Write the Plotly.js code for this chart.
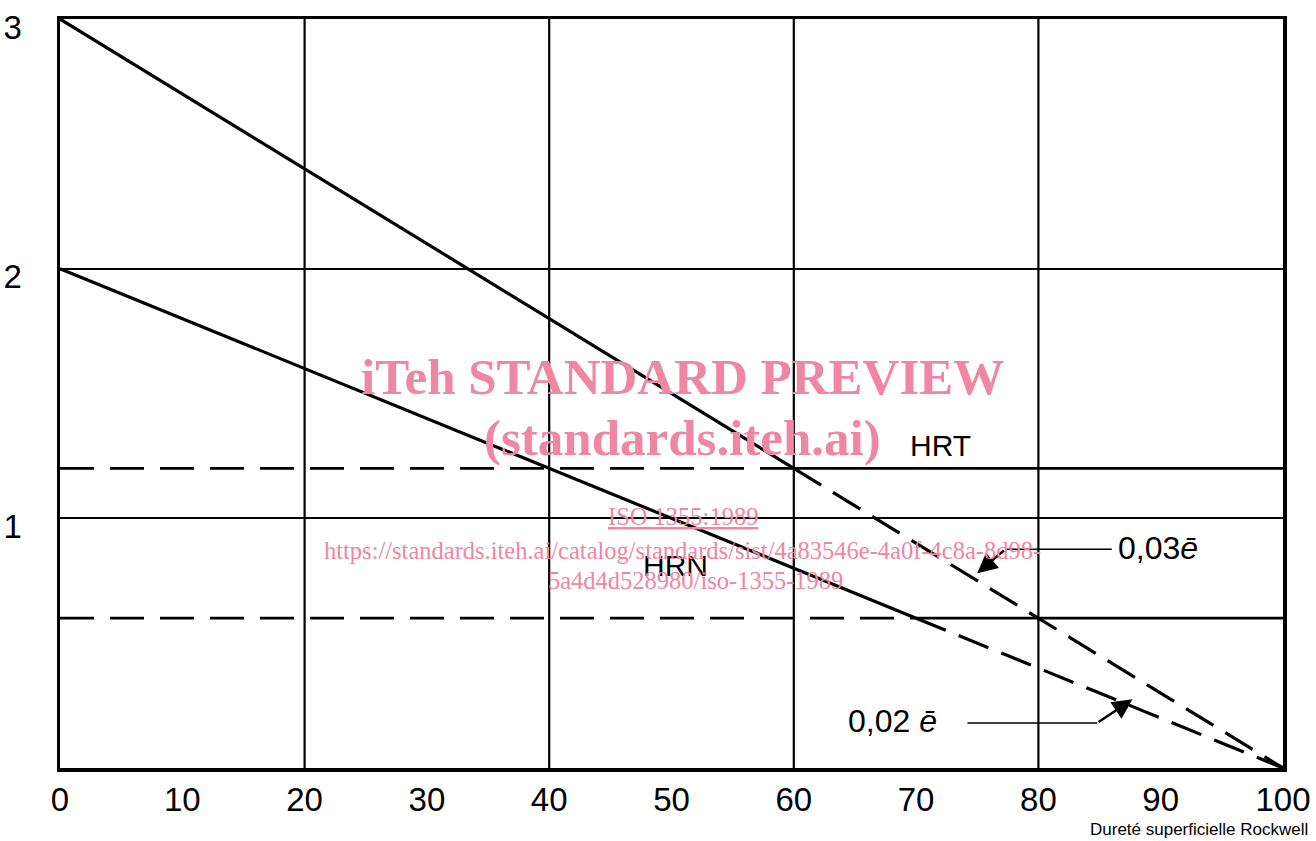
<!DOCTYPE html>
<html>
<head>
<meta charset="utf-8">
<script src="https://cdn.plot.ly/plotly-3.0.1.min.js"></script>
<style>html,body{margin:0;padding:0;background:#fff;}#chart{width:1316px;height:841px;}</style>
</head>
<body>
<div id="chart"></div>
<script>
// ---- data ----
const xTickVals = [0,10,20,30,40,50,60,70,80,90,100];
const xTickText = ['0','10','20','30','40','50','60','70','80','90','100'];
const yTickVals = [1,2,3];
const yTickText = ['1','2','3'];
const gridX = [20,40,60,80];

const hrtSolidX = [0,60];   const hrtSolidY = [3,1.2];
const hrtDashX  = [60,100]; const hrtDashY  = [1.2,0];
const hrnSolidX = [0,70];   const hrnSolidY = [2,0.6];
const hrnDashX  = [70,100]; const hrnDashY  = [0.6,0];

const lvlHrtDashX  = [0,60];   const lvlHrtDashY  = [1.2,1.2];
const lvlHrtSolidX = [60,100]; const lvlHrtSolidY = [1.2,1.2];
const lvlHrnDashX  = [0,70];   const lvlHrnDashY  = [0.6,0.6];
const lvlHrnSolidX = [70,100]; const lvlHrnSolidY = [0.6,0.6];

const labels = ['HRT','HRN'];
const labelX = [72.0, 50.3];
const labelY = [1.29, 0.81];

const tolText = ['0,03<i>ē</i>','0,02 <i>ē</i>'];
const tolTextX = [89.8, 68.1];
const tolTextY = [0.88, 0.19];
const leaderStartX = [86.0, 74.2];
const leaderKinkX  = [77.3, 84.8];
const leaderY      = [0.876, 0.18];
const arrowTipX    = [75.0, 87.7];
const arrowTipY    = [0.78, 0.275];

const xTitle = 'Dureté superficielle Rockwell';

const wmLines = ['iTeh STANDARD PREVIEW','(standards.iteh.ai)','<u>ISO 1355:1989</u>',
  'https://standards.iteh.ai/catalog/standards/sist/4a83546e-4a0f-4c8a-8d98-','5a4d4d528980/iso-1355-1989'];
const wmX = [50.9, 50.9, 50.9, 50.9, 52.0];
const wmY = [1.568, 1.32, 1.008, 0.872, 0.752];
const wmSize = [51, 51, 24.5, 24.5, 24.5];
const wmBold = [true, true, false, false, false];

// ---- traces ----
const lineBase = {type:'scatter', mode:'lines', hoverinfo:'skip', showlegend:false};
const solid = {color:'#000', width:3.2};
const dashed = {color:'#000', width:3.2, dash:'32px,14px'};
const traces = [
  Object.assign({}, lineBase, {x:hrtSolidX, y:hrtSolidY, line:solid}),
  Object.assign({}, lineBase, {x:hrtDashX, y:hrtDashY, line:dashed}),
  Object.assign({}, lineBase, {x:hrnSolidX, y:hrnSolidY, line:solid}),
  Object.assign({}, lineBase, {x:hrnDashX, y:hrnDashY, line:dashed}),
  Object.assign({}, lineBase, {x:lvlHrtDashX, y:lvlHrtDashY, line:{color:'#000',width:2.8,dash:'34px,16px'}}),
  Object.assign({}, lineBase, {x:lvlHrtSolidX, y:lvlHrtSolidY, line:{color:'#000',width:2.8}}),
  Object.assign({}, lineBase, {x:lvlHrnDashX, y:lvlHrnDashY, line:{color:'#000',width:2.8,dash:'34px,16px'}}),
  Object.assign({}, lineBase, {x:lvlHrnSolidX, y:lvlHrnSolidY, line:{color:'#000',width:2.8}})
];

// ---- shapes ----
const shapes = [];
gridX.forEach(v => shapes.push({type:'line', xref:'x', yref:'paper', x0:v, x1:v, y0:0, y1:1,
  line:{color:'#000', width:2.2}, layer:'below'}));
for (let i = 0; i < leaderY.length; i++) {
  shapes.push({type:'line', xref:'x', yref:'y', x0:leaderStartX[i], x1:leaderKinkX[i],
    y0:leaderY[i], y1:leaderY[i], line:{color:'#000', width:1.5}});
}

// ---- annotations ----
const annotations = [];
const sansFont = '"Liberation Sans", "DejaVu Sans", sans-serif';
for (let i = 0; i < labels.length; i++) {
  annotations.push({x:labelX[i], y:labelY[i], xref:'x', yref:'y', text:labels[i], showarrow:false,
    font:{family:sansFont, size:30, color:'#000'}});
}
for (let i = 0; i < tolText.length; i++) {
  annotations.push({x:tolTextX[i], y:tolTextY[i], xref:'x', yref:'y', text:tolText[i], showarrow:false,
    font:{family:sansFont, size:32, color:'#000'}});
  annotations.push({x:arrowTipX[i], y:arrowTipY[i], xref:'x', yref:'y', ax:leaderKinkX[i], ay:leaderY[i],
    axref:'x', ayref:'y', text:'', showarrow:true, arrowhead:2, arrowsize:1.6, arrowwidth:2.5, arrowcolor:'#000'});
}
annotations.push({x:1.022, y:-0.082, xref:'paper', yref:'paper', xanchor:'right', yanchor:'middle',
  text:xTitle, showarrow:false, font:{family:sansFont, size:17, color:'#000'}});
for (let i = 0; i < wmLines.length; i++) {
  annotations.push({x:wmX[i], y:wmY[i], xref:'x', yref:'y', showarrow:false,
    text: wmBold[i] ? '<b>'+wmLines[i]+'</b>' : wmLines[i],
    font:{family:'"Liberation Serif", "DejaVu Serif", serif', size:wmSize[i], color:'rgb(238,134,164)'}});
}

const layout = {
  width:1316, height:841,
  margin:{l:60, r:33, t:19, b:73, pad:0},
  paper_bgcolor:'#fff', plot_bgcolor:'#fff',
  showlegend:false,
  xaxis:{range:[0,100], tickvals:xTickVals, ticktext:xTickText, showgrid:false, zeroline:false,
    showline:true, mirror:true, linecolor:'#000', linewidth:3.5, ticks:'', ticklen:0, ticklabelstandoff:0,
    tickfont:{family:sansFont, size:33, color:'#000'}},
  yaxis:{range:[0,3], tickvals:yTickVals, ticktext:yTickText, showgrid:true, gridcolor:'#000', gridwidth:2.2,
    zeroline:false, showline:true, mirror:true, linecolor:'#000', linewidth:3.5, ticks:'', ticklen:0,
    ticklabelstandoff:28, ticklabelshift:8,
    tickfont:{family:sansFont, size:33, color:'#000'}},
  shapes:shapes,
  annotations:annotations
};

Plotly.newPlot('chart', traces, layout, {displayModeBar:false, staticPlot:true});
</script>
</body>
</html>
